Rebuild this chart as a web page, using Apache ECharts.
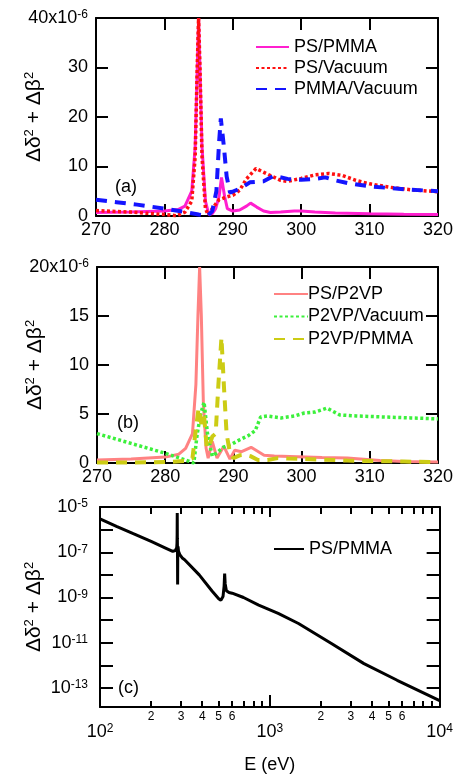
<!DOCTYPE html>
<html>
<head>
<meta charset="utf-8">
<script src="https://cdn.jsdelivr.net/npm/echarts@6/dist/echarts.min.js"></script>
<style>
  html, body { margin: 0; padding: 0; background: #fff; }
  #chart { width: 456px; height: 777px; }
</style>
</head>
<body>
<div id="chart"></div>
<script>
// ---- Panel (a): contrast near the carbon K edge, values in units of 1e-6 ----
const psPmmaE = [270, 275, 280, 282, 283, 284, 284.5, 284.75, 285, 285.25, 285.5, 286, 286.5, 287, 287.5, 288, 288.35, 288.8, 289.2, 290, 291, 292, 292.6, 293.5, 294.5, 295.5, 297, 299, 300, 302, 305, 310, 315, 320];
const psPmmaV = [0.7, 0.8, 1.0, 1.3, 2.0, 5.0, 14, 27, 40, 27, 14, 3.0, 0.3, 0.5, 1.5, 4.0, 7.8, 4.0, 1.5, 1.0, 1.2, 2.0, 2.6, 1.8, 1.0, 0.7, 0.8, 1.0, 1.0, 0.8, 0.6, 0.45, 0.35, 0.3];

const psVacE = [270, 275, 280, 281.8, 283, 284, 284.5, 284.8, 285, 285.2, 285.5, 286, 286.4, 287, 288, 289, 290, 291, 292, 293.4, 295, 297, 298, 300, 302, 304, 306, 308, 310, 313, 316, 320];
const psVacV = [1.1, 0.8, 0.3, 0.05, 0.8, 3.0, 12, 30, 40, 30, 12, 1.5, 0.2, 1.5, 3.3, 3.8, 4.2, 5.2, 7.5, 9.6, 8.5, 7.2, 7.0, 7.6, 8.3, 8.6, 8.2, 7.2, 6.5, 5.8, 5.3, 4.9];

const pmmaVacE = [270, 273, 276, 280, 283, 285, 286.3, 287, 287.6, 288, 288.25, 288.7, 289.1, 289.6, 290.8, 291.5, 292.5, 294.5, 296, 298, 300, 302, 303.5, 305, 307, 310, 315, 320];
const pmmaVacV = [3.3, 2.8, 2.3, 1.5, 0.8, 0.3, 0.0, 1.0, 5.0, 15, 19.7, 14, 8.0, 4.7, 5.4, 5.9, 6.8, 7.0, 8.1, 7.5, 7.3, 7.5, 7.8, 7.2, 6.6, 6.0, 5.4, 5.0];

// ---- Panel (b): P2VP systems, values in units of 1e-6 ----
const psP2vpE = [270, 275, 280, 282, 283, 284, 284.5, 284.8, 285.05, 285.3, 285.6, 286, 286.3, 286.9, 287.6, 288.6, 289.5, 290.2, 291.2, 292.6, 294.5, 296, 299.4, 303, 306.7, 311.5, 315, 320];
const psP2vpV = [0.3, 0.4, 0.6, 0.9, 1.5, 3.0, 8.0, 15, 20, 15, 6.0, 1.5, 0.5, 2.2, 0.5, 1.7, 0.4, 1.3, 1.15, 1.6, 0.8, 0.72, 0.65, 0.55, 0.5, 0.25, 0.15, 0.1];

const p2vpVacE = [270, 275, 280, 283, 284.2, 284.7, 285.2, 285.7, 286.2, 286.9, 287.5, 288.5, 289.7, 291, 292.2, 293.2, 294, 295, 297, 299, 300.4, 302, 303.7, 305.6, 308, 312, 316, 320];
const p2vpVacV = [3.0, 2.0, 1.0, 0.3, 0.0, 3.0, 5.0, 6.2, 3.0, 0.7, 1.0, 1.6, 1.9, 2.4, 2.8, 3.3, 4.7, 4.8, 4.6, 4.8, 5.1, 5.2, 5.6, 4.9, 4.8, 4.7, 4.6, 4.5];

const p2vpPmmaE = [270, 275, 280, 283, 284, 284.5, 284.9, 285.3, 285.7, 286.1, 286.5, 286.9, 287.4, 287.8, 288.25, 288.6, 289, 289.5, 290, 291, 291.7, 292.5, 293.6, 295, 296.5, 298, 300.4, 303, 306.7, 310, 315, 320];
const p2vpPmmaV = [0.05, 0.05, 0.1, 0.2, 0.5, 3.5, 5.6, 4.0, 4.8, 1.5, 1.8, 2.7, 3.0, 8.0, 12.8, 8.0, 3.0, 1.0, 0.5, 0.8, 0.85, 0.7, 0.3, 0.3, 0.5, 0.45, 0.4, 0.35, 0.25, 0.2, 0.15, 0.1];

// ---- Panel (c): PS/PMMA over 100 eV - 10 keV (absolute values) ----
const wideE = [100, 125, 157, 200, 245, 268, 278, 283, 284, 284.6, 285, 285.4, 286, 286.5, 287, 288, 290, 295, 305, 315, 320, 384, 458, 500, 515, 530, 538, 542, 546, 555, 575, 600, 700, 860, 1120, 1475, 2305, 3584, 5622, 10000];
const wideV = [3.0e-6, 1.4e-6, 6.6e-7, 3.0e-7, 1.5e-7, 1.1e-7, 1.2e-7, 1.6e-7, 2.5e-7, 6.3e-7, 5.4e-6, 4.0e-7, 1.26e-7, 3.8e-9, 1.0e-7, 1.8e-7, 1.1e-7, 7.9e-8, 5.6e-8, 4.7e-8, 4.0e-8, 1.0e-8, 1.9e-9, 8.9e-10, 7.6e-10, 1.1e-9, 3.2e-9, 1.15e-8, 4.0e-9, 2.0e-9, 1.66e-9, 1.55e-9, 1.0e-9, 4.6e-10, 2.0e-10, 7.1e-11, 9.3e-12, 1.2e-12, 2.2e-13, 2.8e-14];

// Axis ticks for the log panel
const logMinorTicks = [200, 300, 400, 500, 600, 700, 800, 900, 2000, 3000, 4000, 5000, 6000, 7000, 8000, 9000];
const logMinorLabels = [200, 300, 400, 500, 600, 2000, 3000, 4000, 5000, 6000];
const logDecadeTicksY = [1e-13, 1e-12, 1e-11, 1e-10, 1e-9, 1e-8, 1e-7, 1e-6, 1e-5];
const logLabelsY = [1e-13, 1e-11, 1e-9, 1e-7, 1e-5];

const FONT = '"Liberation Sans", Arial, Helvetica, sans-serif';
const pairs = (xs, ys) => xs.map((x, i) => [x, ys[i]]);
const expOf = v => Math.round(Math.log10(v));

const lineAxis = { show: true, onZero: false, lineStyle: { color: '#000', width: 2 } };
const tick = (len, extra) => Object.assign({ show: true, inside: true, length: len, lineStyle: { color: '#000', width: 2 } }, extra || {});
const noSplit = { show: false };
const labelBase = { color: '#000', fontFamily: FONT, fontSize: 18 };
const supRich = {
  n: { fontSize: 18, fontFamily: FONT, color: '#000' },
  s: { fontSize: 12, fontFamily: FONT, color: '#000', verticalAlign: 'top', padding: [0, 0, 6, 0] }
};

const yTitle = '{t|Δδ}{s|2}{t| + Δβ}{s|2}';
const yTitleStyle = {
  color: '#000', fontFamily: FONT, fontSize: 21,
  rich: {
    t: { fontSize: 21, fontFamily: FONT, color: '#000' },
    s: { fontSize: 13, fontFamily: FONT, color: '#000', verticalAlign: 'top', padding: [0, 0, 9, 0] }
  }
};

function linearX(grid, pos, showLabel) {
  return {
    gridIndex: grid, type: 'value', min: 270, max: 320, interval: 10, position: pos,
    axisLine: lineAxis, axisTick: tick(12), splitLine: noSplit,
    axisLabel: Object.assign({ show: showLabel, margin: 5 }, labelBase)
  };
}
function linearY(grid, pos, max, interval, showLabel) {
  const ax = {
    gridIndex: grid, type: 'value', min: 0, max: max, interval: interval, position: pos,
    axisLine: lineAxis, axisTick: tick(12), splitLine: noSplit,
    axisLabel: Object.assign({
      show: showLabel, margin: 8,
      formatter: v => (v === max ? '{n|' + max + 'x10}{s|-6}' : '{n|' + v + '}'),
      rich: supRich
    }, labelBase)
  };
  if (showLabel) {
    Object.assign(ax, { name: yTitle, nameLocation: 'middle', nameRotate: 90, nameGap: 51,
      nameMoveOverlap: false, nameTextStyle: yTitleStyle });
  }
  return ax;
}
function logX(pos, major, showLabel) {
  const ax = {
    gridIndex: 2, type: 'log', logBase: 10, min: 100, max: 10000, position: pos,
    splitLine: noSplit, minorTick: { show: false }
  };
  if (major) {
    ax.axisLine = lineAxis;
    ax.axisTick = tick(pos === 'top' ? 10 : 12);
    ax.axisLabel = Object.assign({
      show: showLabel, margin: 16,
      formatter: v => '{n|10}{s|' + expOf(v) + '}',
      rich: supRich
    }, labelBase);
    if (showLabel) {
      Object.assign(ax, { name: 'E (eV)', nameLocation: 'middle', nameGap: 49, nameMoveOverlap: false,
        nameTextStyle: { color: '#000', fontFamily: FONT, fontSize: 18 } });
    }
  } else {
    ax.axisLine = { show: false };
    ax.axisTick = tick(pos === 'top' ? 7 : 6, { customValues: logMinorTicks });
    ax.axisLabel = {
      show: showLabel, margin: 4, customValues: logMinorLabels,
      color: '#000', fontFamily: FONT, fontSize: 12,
      formatter: v => String(Math.round(v / Math.pow(10, Math.floor(Math.log10(v) + 1e-9))))
    };
  }
  return ax;
}
function logY(pos, showLabel) {
  const ax = {
    gridIndex: 2, type: 'log', logBase: 10, min: 1.45e-14, max: 1e-5, position: pos,
    axisLine: lineAxis, splitLine: noSplit,
    axisTick: tick(13, { customValues: logDecadeTicksY }),
    axisLabel: Object.assign({
      show: showLabel, margin: 12, customValues: logLabelsY,
      formatter: v => '{n|10}{s|' + expOf(v) + '}',
      rich: supRich
    }, labelBase)
  };
  if (showLabel) {
    Object.assign(ax, { name: yTitle, nameLocation: 'middle', nameRotate: 90, nameGap: 55,
      nameMoveOverlap: false, nameTextStyle: yTitleStyle });
  }
  return ax;
}

function curve(name, xs, ys, xi, yi, color, width, dash) {
  return {
    name: name, type: 'line', xAxisIndex: xi, yAxisIndex: yi,
    data: pairs(xs, ys), symbol: 'none', showSymbol: false, clip: true,
    lineStyle: { color: color, width: width, type: dash || 'solid', cap: 'butt' },
    itemStyle: { color: color },
    emphasis: { disabled: true }
  };
}

const legendText = (padLeft) => ({ color: '#000', fontFamily: FONT, fontSize: 18, padding: [0, 0, 0, padLeft] });
const legendCommon = { orient: 'vertical', itemHeight: 12, selectedMode: false, itemStyle: { opacity: 0 } };

const option = {
  animation: false,
  backgroundColor: '#fff',
  grid: [
    { left: 96, top: 18, width: 347, height: 198 },
    { left: 97, top: 267, width: 346, height: 196 },
    { left: 100, top: 507, width: 343, height: 200 }
  ],
  xAxis: [
    linearX(0, 'bottom', true), linearX(0, 'top', false),
    linearX(1, 'bottom', true), linearX(1, 'top', false),
    logX('bottom', true, true), logX('bottom', false, true),
    logX('top', true, false), logX('top', false, false)
  ],
  yAxis: [
    linearY(0, 'left', 40, 10, true), linearY(0, 'right', 40, 10, false),
    linearY(1, 'left', 20, 5, true), linearY(1, 'right', 20, 5, false),
    logY('left', true), logY('right', false)
  ],
  legend: [
    Object.assign({ data: ['PS/PMMA', 'PS/Vacuum', 'PMMA/Vacuum'], left: 250, top: 33,
      itemWidth: 33, itemGap: 3, textStyle: legendText(0) }, legendCommon),
    Object.assign({ data: ['PS/P2VP', 'P2VP/Vacuum', 'P2VP/PMMA'], left: 268, top: 280,
      itemWidth: 34, itemGap: 4.5, textStyle: legendText(-5) }, legendCommon),
    Object.assign({ data: ['PS/PMMA, 100 eV–10 keV'], left: 268, top: 535,
      itemWidth: 30, textStyle: legendText(0), formatter: () => 'PS/PMMA' }, legendCommon)
  ],
  graphic: [
    { type: 'text', x: 115, y: 187, style: { text: '(a)', font: '18px ' + FONT, fill: '#000', verticalAlign: 'middle' } },
    { type: 'text', x: 117, y: 423, style: { text: '(b)', font: '18px ' + FONT, fill: '#000', verticalAlign: 'middle' } },
    { type: 'text', x: 118, y: 688, style: { text: '(c)', font: '18px ' + FONT, fill: '#000', verticalAlign: 'middle' } }
  ],
  series: [
    curve('PS/PMMA', psPmmaE, psPmmaV, 0, 0, '#ff1fcf', 3),
    curve('PS/Vacuum', psVacE, psVacV, 0, 0, '#ff1010', 3.5, [3, 2.5]),
    curve('PMMA/Vacuum', pmmaVacE, pmmaVacV, 0, 0, '#1414ff', 4, [11, 8]),
    curve('PS/P2VP', psP2vpE, psP2vpV, 2, 2, '#ff8282', 3),
    curve('P2VP/Vacuum', p2vpVacE, p2vpVacV, 2, 2, '#3cf03c', 3.5, [3, 2.5]),
    curve('P2VP/PMMA', p2vpPmmaE, p2vpPmmaV, 2, 2, '#cccc14', 4, [11, 8]),
    curve('PS/PMMA, 100 eV–10 keV', wideE, wideV, 4, 4, '#000', 3)
  ]
};

const chart = echarts.init(document.getElementById('chart'), null, { renderer: 'canvas' });
chart.setOption(option);
</script>
</body>
</html>
